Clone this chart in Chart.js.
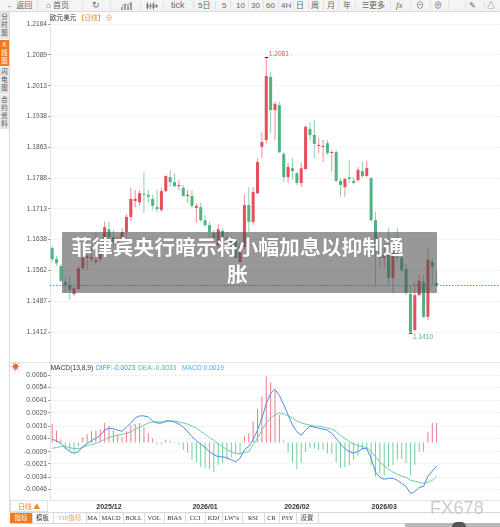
<!DOCTYPE html>
<html lang="zh-CN">
<head>
<meta charset="utf-8">
<title>欧元美元 日线</title>
<script src="https://cdn.jsdelivr.net/npm/chart.js@4.4.1/dist/chart.umd.min.js"></script>
<style>
  html, body { margin:0; padding:0; background:#fff; }
  body { width:500px; height:527px; overflow:hidden; position:relative;
         font-family:"Liberation Sans","Noto Sans CJK SC",sans-serif; }
  .a { position:absolute; }
  #toolbar { left:0; top:0; width:500px; height:12px; background:#f4f4f4;
             border-bottom:1px solid #d9d9d9; box-sizing:border-box; }
  #toolbar span { position:absolute; top:0; line-height:11px; font-size:8px; color:#666; white-space:nowrap; }
  #toolbar i { position:absolute; top:1px; width:1px; height:9px; background:#e0e0e0; }
  #side { left:0; top:12px; width:10px; height:500px; background:#fff; border-right:1px solid #dcdcdc; box-sizing:border-box; }
  #side div { position:absolute; left:0; width:9px; background:#e6e6e6; color:#555;
              font-size:6.4px; line-height:8px; text-align:center; font-family:"Noto Sans CJK SC",sans-serif; }
  #side div.on { background:#f07a1c; color:#fff; }
  #title { left:50px; top:12px; font-size:6.6px; line-height:10px; color:#333; font-family:"Noto Sans CJK SC",sans-serif; white-space:nowrap; }
  #title b { font-weight:normal; color:#f08a2c; }
  #banner { left:62px; top:232px; width:375px; height:61px; background:rgba(78,78,78,0.58); }
  #banner p { margin:0; position:absolute; left:0; top:1px; width:351px; text-align:center;
              font-family:"Noto Sans CJK SC",sans-serif; font-weight:bold; font-size:20.8px; line-height:27px;
              color:#fff; text-shadow:0 0 1px rgba(0,0,0,0.35); }
  #sep { left:10px; top:362px; width:490px; height:1px; background:#e4e4e4; }
  #sun { left:11px; top:361px; font-size:9px; line-height:12px; color:#e9623c; }
  #dayBox { left:10px; top:500px; width:38px; height:12px; border:1px solid #e0e0e0; box-sizing:border-box;
            font-size:7px; line-height:10px; text-align:center; color:#f08a2c; font-family:"Noto Sans CJK SC",sans-serif; }
  #tabs { left:10px; top:512px; width:490px; height:12px; border-top:1px solid #d8d8d8; border-bottom:1px solid #d8d8d8; box-sizing:border-box; background:#fff; }
  #tabs span { position:absolute; top:0; height:10px; line-height:10px; font-size:6.4px; text-align:center; color:#333;
               border-right:1px solid #dcdcdc; font-family:"Liberation Serif","Noto Sans CJK SC",serif; }
  #tabs span.on { background:#f07a1c; color:#fff; font-family:"Noto Sans CJK SC",sans-serif; }
  #tabs span.vip { color:#f3a04a; }
  #fx { left:430px; top:497px; font-size:18px; line-height:22px; color:#cbcbcb; font-family:"Liberation Sans",sans-serif; letter-spacing:0.2px; }
  #foot { left:405px; top:523px; width:95px; height:4px; background:#b8b8b8; }
  #foot2 { left:452px; top:522px; width:14px; height:5px; border-radius:7px 7px 0 0; background:#555; }
</style>
</head>
<body>

<div id="toolbar" class="a">
  <span style="left:6px">← 返回</span>
  <i style="left:37px"></i>
  <span style="left:46px">⌂ 首页</span>
  <i style="left:82px"></i>
  <span style="left:92px;font-size:9px">↻</span>
  <i style="left:110px"></i>
  <span style="left:121px;top:2px">
    <svg width="12" height="8" viewBox="0 0 12 8"><path d="M1 8V5M4 8V3M7 8V4M10 8V1" stroke="#777" stroke-width="1.4"/><path d="M1 4L4 2L7 3L11 0" stroke="#777" stroke-width="0.8" fill="none"/></svg>
  </span>
  <i style="left:140px"></i>
  <span style="left:146px;top:2px">
    <svg width="12" height="8" viewBox="0 0 12 8"><path d="M1.5 0V8M4.5 1V7M7.5 0V8M10.5 2V6" stroke="#777" stroke-width="0.8"/><path d="M1.5 2V6M4.5 3V5M7.5 2V6M10.5 3V5" stroke="#777" stroke-width="2"/></svg>
  </span>
  <i style="left:163px"></i>
  <span style="left:171px;font-size:9px">tick</span>
  <i style="left:193px"></i>
  <span style="left:198px">5日</span>
  <i style="left:215px"></i>
  <span style="left:222px">5</span>
  <i style="left:230px"></i>
  <span style="left:236px">10</span>
  <i style="left:248px"></i>
  <span style="left:251px">30</span>
  <i style="left:263px"></i>
  <span style="left:266px">60</span>
  <i style="left:278px"></i>
  <span style="left:281px">4H</span>
  <i style="left:293px"></i>
  <span style="left:296px">日</span>
  <i style="left:308px"></i>
  <span style="left:311px">周</span>
  <i style="left:323px"></i>
  <span style="left:327px">月</span>
  <i style="left:338px"></i>
  <span style="left:343px">年</span>
  <i style="left:355px"></i>
  <span style="left:362px">☰更多</span>
  <i style="left:390px"></i>
  <span style="left:396px;font-family:'Liberation Serif',serif;font-style:italic;font-size:9px">fx</span>
  <i style="left:410px"></i>
  <span style="left:416px">⊖</span>
  <i style="left:430px"></i>
  <span style="left:434px">⊕</span>
  <i style="left:448px"></i>
  <i style="left:465px"></i>
  <span style="left:469px">✎</span>
  <i style="left:484px"></i>
  <span style="left:487px">△</span>
</div>

<div id="side" class="a">
  <div style="top:0;height:27px;padding-top:1px;box-sizing:border-box">分<br>时<br>图</div>
  <div class="on" style="top:28px;height:26px;padding-top:1px;box-sizing:border-box">K<br>线<br>图</div>
  <div style="top:55px;height:27px;padding-top:1px;box-sizing:border-box">闪<br>电<br>图</div>
  <div style="top:83px;height:34px;padding-top:1px;box-sizing:border-box">合<br>约<br>资<br>料</div>
</div>

<canvas id="kline" class="a" width="500" height="350" style="left:0;top:12px"></canvas>
<canvas id="macd" class="a" width="500" height="150" style="left:0;top:362px"></canvas>

<div id="title" class="a">欧元美元 <b>【日线】</b> <b>⊖</b></div>
<div id="banner" class="a"><p>菲律宾央行暗示将小幅加息以抑制通<br>胀</p></div>
<div id="sep" class="a"></div>
<div id="sun" class="a">☀</div>
<div id="dayBox" class="a">日线 ▲</div>
<div id="tabs" class="a">
  <span class="on" style="left:0;width:22px">指标</span>
  <span style="left:22px;width:21px;font-family:'Noto Sans CJK SC',sans-serif">模板</span>
  <span class="vip" style="left:43px;width:33px">VIP指标</span>
  <span style="left:76px;width:13px">MA</span>
  <span style="left:89px;width:24px">MACD</span>
  <span style="left:113px;width:21px">BOLL</span>
  <span style="left:134px;width:20px">VOL</span>
  <span style="left:154px;width:21px">BIAS</span>
  <span style="left:175px;width:20px">CCI</span>
  <span style="left:195px;width:17px">KDJ</span>
  <span style="left:212px;width:20px">LW%</span>
  <span style="left:232px;width:22px">RSI</span>
  <span style="left:254px;width:15px">CR</span>
  <span style="left:269px;width:17px">PSY</span>
  <span style="left:286px;width:22px;font-family:'Noto Sans CJK SC',sans-serif">设置</span>
</div>
<div id="fx" class="a">FX678</div>
<div id="foot" class="a"></div>
<div id="foot2" class="a"></div>

<script>
// ---- trading days (EUR/USD daily) ----
const dates = [
  '2025/11/12','2025/11/13','2025/11/14','2025/11/17','2025/11/18','2025/11/19','2025/11/20','2025/11/21','2025/11/24','2025/11/25','2025/11/26','2025/11/27','2025/11/28',
  '2025/12/01','2025/12/02','2025/12/03','2025/12/04','2025/12/05','2025/12/08','2025/12/09','2025/12/10','2025/12/11','2025/12/12','2025/12/15','2025/12/16','2025/12/17','2025/12/18','2025/12/19','2025/12/22','2025/12/23','2025/12/24','2025/12/26','2025/12/29','2025/12/30','2025/12/31',
  '2026/01/02','2026/01/05','2026/01/06','2026/01/07','2026/01/08','2026/01/09','2026/01/12','2026/01/13','2026/01/14','2026/01/15','2026/01/16','2026/01/19','2026/01/20','2026/01/21','2026/01/22','2026/01/23','2026/01/26','2026/01/27','2026/01/28','2026/01/29','2026/01/30',
  '2026/02/02','2026/02/03','2026/02/04','2026/02/05','2026/02/06','2026/02/09','2026/02/10','2026/02/11','2026/02/12','2026/02/13','2026/02/16','2026/02/17','2026/02/18','2026/02/19','2026/02/20','2026/02/23','2026/02/24','2026/02/25','2026/02/26','2026/02/27',
  '2026/03/02','2026/03/03','2026/03/04','2026/03/05','2026/03/06','2026/03/09','2026/03/10','2026/03/11','2026/03/12','2026/03/13','2026/03/16','2026/03/17','2026/03/18'
];

// ---- OHLC ----
const opens = [
  1.1617,1.1590,1.1573,1.1534,1.1527,1.1505,1.1517,1.1568,1.1593,1.1590,
  1.1583,1.1590,1.1607,1.1663,1.1644,1.1624,1.1637,1.1656,1.1693,1.1732,
  1.1729,1.1749,1.1747,1.1737,1.1717,1.1710,1.1756,1.1790,1.1778,1.1768,
  1.1764,1.1744,1.1744,1.1715,1.1717,1.1685,1.1673,1.1654,1.1624,1.1659,
  1.1642,1.1627,1.1634,1.1583,1.1620,1.1722,1.1681,1.1751,1.1864,1.1881,
  1.2035,1.1954,1.1966,1.1847,1.1790,1.1812,1.1800,1.1776,1.1810,1.1908,
  1.1893,1.1866,1.1864,1.1873,1.1849,1.1851,1.1781,1.1766,1.1790,1.1781,
  1.1783,1.1805,1.1793,1.1788,1.1685,1.1607,1.1593,1.1600,1.1544,1.1605,
  1.1593,1.1566,1.1505,1.1417,1.1502,1.1534,1.1449,1.1583,1.1532
];
const highs = [
  1.1622,1.1598,1.1578,1.1546,1.1549,1.1522,1.1573,1.1612,1.1612,1.1624,
  1.1654,1.1617,1.1681,1.1681,1.1661,1.1646,1.1666,1.1700,1.1764,1.1759,
  1.1759,1.1803,1.1759,1.1747,1.1759,1.1764,1.1795,1.1808,1.1800,1.1783,
  1.1771,1.1759,1.1759,1.1727,1.1727,1.1698,1.1681,1.1661,1.1676,1.1666,
  1.1656,1.1646,1.1642,1.1629,1.1747,1.1766,1.1766,1.1837,1.1900,1.2081,
  1.2047,1.1974,1.1974,1.1851,1.1825,1.1837,1.1803,1.1825,1.1917,1.1925,
  1.1930,1.1886,1.1881,1.1881,1.1856,1.1856,1.1788,1.1788,1.1832,1.1790,
  1.1815,1.1827,1.1830,1.1790,1.1705,1.1624,1.1629,1.1666,1.1617,1.1666,
  1.1600,1.1576,1.1527,1.1532,1.1551,1.1551,1.1615,1.1593,1.1563
];
const lows = [
  1.1583,1.1573,1.1534,1.1510,1.1490,1.1500,1.1515,1.1563,1.1563,1.1583,
  1.1576,1.1583,1.1602,1.1637,1.1622,1.1612,1.1617,1.1642,1.1683,1.1717,
  1.1720,1.1703,1.1727,1.1710,1.1705,1.1705,1.1754,1.1766,1.1766,1.1759,
  1.1742,1.1727,1.1715,1.1678,1.1681,1.1668,1.1644,1.1637,1.1617,1.1629,
  1.1624,1.1617,1.1593,1.1580,1.1615,1.1656,1.1673,1.1749,1.1837,1.1873,
  1.1898,1.1881,1.1849,1.1778,1.1776,1.1783,1.1771,1.1766,1.1808,1.1881,
  1.1837,1.1849,1.1827,1.1844,1.1803,1.1778,1.1742,1.1742,1.1776,1.1773,
  1.1778,1.1788,1.1790,1.1681,1.1527,1.1568,1.1571,1.1527,1.1507,1.1583,
  1.1559,1.1502,1.1410,1.1414,1.1500,1.1446,1.1441,1.1527,1.1522
];
const closes = [
  1.1590,1.1580,1.1537,1.1527,1.1515,1.1519,1.1568,1.1593,1.1598,1.1595,
  1.1588,1.1607,1.1668,1.1644,1.1632,1.1637,1.1656,1.1693,1.1737,1.1737,
  1.1751,1.1747,1.1742,1.1720,1.1712,1.1756,1.1793,1.1778,1.1768,1.1771,
  1.1744,1.1747,1.1720,1.1720,1.1685,1.1673,1.1656,1.1642,1.1663,1.1642,
  1.1632,1.1637,1.1593,1.1620,1.1722,1.1681,1.1754,1.1827,1.1876,1.2037,
  1.1954,1.1969,1.1851,1.1790,1.1815,1.1805,1.1776,1.1812,1.1913,1.1893,
  1.1871,1.1869,1.1866,1.1849,1.1851,1.1781,1.1771,1.1786,1.1786,1.1776,
  1.1808,1.1793,1.1812,1.1685,1.1607,1.1593,1.1600,1.1544,1.1605,1.1593,
  1.1563,1.1507,1.1412,1.1502,1.1537,1.1449,1.1588,1.1571,1.1527
];

// ---- MACD(13,8,9) ----
const diff = [
  0.0003,0.00018,-0.0001,-0.0005,-0.0009,-0.00105,-0.0009,-0.0004,-0.0001,0.00018,
  0.0004,0.0007,0.0012,0.0014,0.00135,0.0012,0.0011,0.0015,0.0019,0.0024,
  0.0026,0.0026,0.0025,0.0021,0.0019,0.0019,0.0021,0.0021,0.0020,0.0018,
  0.0015,0.00106,0.00057,0.00018,-0.00015,-0.0005,-0.0009,-0.0012,-0.0014,-0.0014,
  -0.0015,-0.0017,-0.0019,-0.00155,-0.0007,-0.0004,0.0003,0.0012,0.0024,0.0038,
  0.0048,0.0052,0.0046,0.0037,0.0027,0.0017,0.00106,0.0007,0.0012,0.0016,
  0.0015,0.0014,0.0013,0.0012,0.0009,0.0004,-0.00015,-0.0006,-0.0009,-0.00105,
  -0.0009,-0.0006,-0.0006,-0.00155,-0.0029,-0.0034,-0.0036,-0.0035,-0.0035,-0.0037,
  -0.0040,-0.0043,-0.0050,-0.0048,-0.0044,-0.0043,-0.0033,-0.0028,-0.0023
];
const dea = [
  -0.00057,-0.0005,-0.0004,-0.0004,-0.0005,-0.0006,-0.0006,-0.0005,-0.0003,-0.0002,
  -0.0001,0.0001,0.0003,0.0005,0.0006,0.0007,0.0008,0.0009,0.00106,0.0013,
  0.0015,0.0017,0.0019,0.0020,0.0020,0.0020,0.0021,0.0021,0.0021,0.0020,
  0.0019,0.0018,0.0016,0.0014,0.0011,0.0008,0.0005,0.0002,-0.00015,-0.0004,
  -0.0007,-0.0009,-0.0011,-0.0011,-0.0010,-0.0009,-0.0002,0.0004,0.0012,0.0019,
  0.0024,0.0027,0.0029,0.0028,0.0026,0.0024,0.0021,0.0019,0.0018,0.0017,
  0.0016,0.0016,0.0015,0.0014,0.0013,0.00106,0.0007,0.0004,0.0001,-0.00015,
  -0.0003,-0.0004,-0.0005,-0.0009,-0.0014,-0.0019,-0.0023,-0.0026,-0.0029,-0.0031,
  -0.0033,-0.0034,-0.0037,-0.0038,-0.0039,-0.0040,-0.0039,-0.0037,-0.0033
];
const macdHist = [
  0.0018,0.00115,0.0003,-0.0007,-0.0008,-0.0009,-0.0004,0.0005,0.0008,0.0011,
  0.0012,0.0013,0.0019,0.0016,0.0012,0.0008,0.0005,0.0011,0.0017,0.0018,
  0.0019,0.0015,0.0009,0.0004,-0.0002,-0.00015,0.0003,0.0002,0.00005,-0.0002,
  -0.0007,-0.0010,-0.0017,-0.0019,-0.0024,-0.0025,-0.0026,-0.0029,-0.0022,-0.0020,
  -0.0017,-0.00145,-0.0011,-0.0011,0.0006,0.0009,0.0020,0.0033,0.0045,0.0065,
  0.0059,0.0051,0.0027,0.0002,-0.0010,-0.0019,-0.0026,-0.0020,-0.0009,-0.0006,
  -0.0006,-0.0007,-0.0007,-0.00105,-0.0011,-0.0019,-0.0025,-0.0024,-0.0022,-0.0017,
  -0.0013,-0.0007,-0.0006,-0.0022,-0.0033,-0.0030,-0.0032,-0.0024,-0.0022,-0.0017,
  -0.0016,-0.0020,-0.0032,-0.0022,-0.0009,-0.0009,0.00106,0.0019,0.0019
];

// ---- axis ticks ----
const priceTicks = [1.1412,1.1487,1.1562,1.1638,1.1713,1.1788,1.1863,1.1938,1.2013,1.2089,1.2164];
const macdTicks = [-0.0046,-0.0034,-0.0021,-0.0009,0.0004,0.0016,0.0029,0.0041,0.0054,0.0066];

// empty slots kept to the right of the last candle
const TRAILING_SLOTS = 14;
const slots = dates.concat(new Array(TRAILING_SLOTS).fill(''));

const UP = '#e44f5c', DOWN = '#4db482', UP_WICK = '#ee8e97', DOWN_WICK = '#8fd1ae';
const isUp = i => closes[i] >= opens[i];

Chart.defaults.font.family = '"Liberation Sans", Arial, sans-serif';
Chart.defaults.color = '#555';

const fixedTicks = values => scale => { scale.ticks = values.map(v => ({ value: v })); };
// keep the plot area flush with the canvas edges (no room reserved for edge labels)
const noEdgePadding = s => { s.paddingTop = 0; s.paddingBottom = 0; s.paddingLeft = 0; s.paddingRight = 0; };
const yAxisBase = (min, max, values, fontSize) => ({
  position: 'left', min, max,
  afterBuildTicks: fixedTicks(values),
  afterFit: s => { s.width = 50; noEdgePadding(s); },
  ticks: { font: { size: fontSize }, color: '#555', padding: 1, callback: v => Number(v).toFixed(4) },
  grid: { color: '#ebebeb', tickLength: 2, tickColor: '#999', tickBorderDash: [] },
  border: { display: true, color: '#e0e0e0', dash: [2, 2] }
});

// latest close as a dotted guide line
const lastPriceLine = {
  id: 'lastPriceLine',
  afterDatasetsDraw(chart) {
    const { ctx, chartArea, scales: { y } } = chart;
    const py = Math.round(y.getPixelForValue(closes[closes.length - 1])) + 0.5;
    ctx.save();
    ctx.strokeStyle = '#5b92d6';
    ctx.lineWidth = 1;
    ctx.setLineDash([1.5, 1.5]);
    ctx.beginPath();
    ctx.moveTo(chartArea.left, py);
    ctx.lineTo(chartArea.right, py);
    ctx.stroke();
    ctx.restore();
  }
};

// highest high / lowest low markers
const extremeMarks = {
  id: 'extremeMarks',
  afterDatasetsDraw(chart) {
    const { ctx, scales: { x, y } } = chart;
    let hi = 0, lo = 0;
    highs.forEach((v, i) => { if (v > highs[hi]) hi = i; });
    lows.forEach((v, i) => { if (v < lows[lo]) lo = i; });
    ctx.save();
    ctx.font = '6.6px "Liberation Sans", Arial, sans-serif';
    ctx.textAlign = 'left';
    ctx.textBaseline = 'middle';
    ctx.strokeStyle = '#333';
    ctx.lineWidth = 1;

    const hx = x.getPixelForValue(hi), hy = y.getPixelForValue(highs[hi]);
    ctx.beginPath(); ctx.moveTo(hx - 1.5, hy - 0.5); ctx.lineTo(hx + 2, hy - 0.5); ctx.stroke();
    ctx.fillStyle = '#e8535f';
    ctx.fillText(highs[hi].toFixed(4), hx + 2.5, hy - 4);

    const lx = x.getPixelForValue(lo), ly = y.getPixelForValue(lows[lo]);
    ctx.beginPath(); ctx.moveTo(lx - 1.5, ly + 0.5); ctx.lineTo(lx + 2, ly + 0.5); ctx.stroke();
    ctx.fillStyle = '#4fb380';
    ctx.fillText(lows[lo].toFixed(4), lx + 2.5, ly + 4);
    ctx.restore();
  }
};

new Chart(document.getElementById('kline'), {
  type: 'bar',
  data: {
    labels: slots,
    datasets: [
      {
        label: '影线',
        data: lows.map((l, i) => [l, highs[i]]),
        backgroundColor: lows.map((_, i) => isUp(i) ? UP_WICK : DOWN_WICK),
        barThickness: 1, inflateAmount: 0, grouped: false, order: 2
      },
      {
        label: '实体',
        data: opens.map((o, i) => [o, closes[i]]),
        backgroundColor: opens.map((_, i) => isUp(i) ? UP : DOWN),
        barThickness: 3, minBarLength: 1, inflateAmount: 0, grouped: false, order: 1
      }
    ]
  },
  options: {
    responsive: false, animation: false, events: [],
    layout: { padding: 0, autoPadding: false },
    plugins: { legend: { display: false }, tooltip: { enabled: false } },
    scales: {
      x: { display: false, offset: true },
      y: yAxisBase(1.13388, 1.21933, priceTicks, 6.6)
    }
  },
  plugins: [lastPriceLine, extremeMarks]
});

// MACD legend line drawn from the latest values
const macdLegend = {
  id: 'macdLegend',
  afterDraw(chart) {
    const { ctx } = chart;
    const n = diff.length - 1;
    const items = [
      ['MACD(13,8,9)', '#333', 50.5],
      ['DIFF:' + diff[n].toFixed(4), '#4a8ee6', 96],
      ['DEA:' + dea[n].toFixed(4), '#55c287', 138],
      ['MACD:' + macdHist[n].toFixed(4), '#58aee6', 182]
    ];
    ctx.save();
    ctx.font = '6.7px "Liberation Sans", Arial, sans-serif';
    ctx.textBaseline = 'middle';
    ctx.textAlign = 'left';
    items.forEach(([t, c, px]) => { ctx.fillStyle = c; ctx.fillText(t, px, 6); });
    ctx.restore();
  }
};

const monthLabel = i => {
  if (i <= 0 || i >= dates.length) return '';
  const m = dates[i].slice(0, 7), prev = dates[i - 1].slice(0, 7);
  return m !== prev ? m : '';
};

new Chart(document.getElementById('macd'), {
  type: 'bar',
  data: {
    labels: slots,
    datasets: [
      { type: 'line', label: 'DIFF', data: diff, borderColor: '#4a8ee6', borderWidth: 1, pointRadius: 0, tension: 0, order: 1 },
      { type: 'line', label: 'DEA', data: dea, borderColor: '#6dcf9d', borderWidth: 1, pointRadius: 0, tension: 0, order: 2 },
      {
        label: 'MACD', data: macdHist,
        backgroundColor: macdHist.map(v => v >= 0 ? '#ef7c86' : '#74cd9d'),
        barThickness: 1, inflateAmount: 0, order: 3
      }
    ]
  },
  options: {
    responsive: false, animation: false, events: [],
    layout: { padding: 0, autoPadding: false },
    plugins: { legend: { display: false }, tooltip: { enabled: false } },
    scales: {
      x: {
        offset: true,
        afterFit: s => { s.height = 12; noEdgePadding(s); },
        grid: { display: false, drawTicks: false },
        border: { display: true, color: '#e2e2e2' },
        ticks: {
          autoSkip: false, maxRotation: 0, minRotation: 0, padding: 3,
          font: { size: 7, weight: 'bold' }, color: '#333',
          callback: (v, i) => monthLabel(i)
        }
      },
      y: yAxisBase(-0.005627, 0.007872, macdTicks, 6.8)
    }
  },
  plugins: [macdLegend]
});
</script>
</body>
</html>
